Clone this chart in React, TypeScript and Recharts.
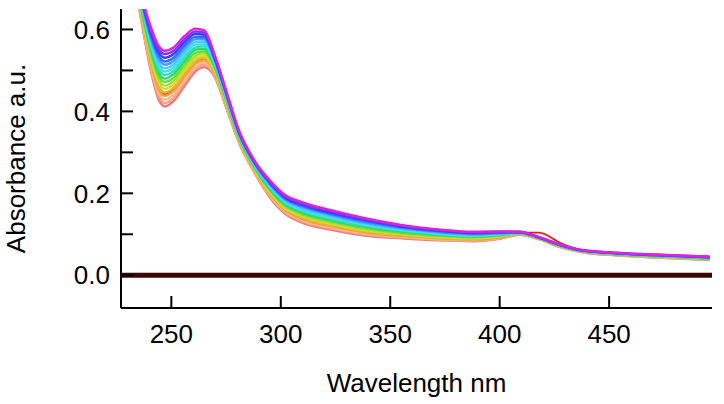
import React from "react";
import { LineChart, Line, XAxis, YAxis, Label } from "recharts";

// wavelength grid (nm) shared by every scan
const wavelengths = [232, 237, 241, 244, 247, 251, 256, 261, 265, 270, 275, 281, 288, 295, 302, 310, 322, 338, 355, 372, 388, 400, 409, 418, 428, 438, 452, 472, 496];

// absorbance scans, highest (magenta) to lowest (salmon)
const scan00 = [0.800, 0.672, 0.600, 0.562, 0.548, 0.556, 0.584, 0.602, 0.598, 0.535, 0.452, 0.352, 0.280, 0.232, 0.196, 0.178, 0.160, 0.140, 0.123, 0.112, 0.106, 0.107, 0.106, 0.093, 0.074, 0.061, 0.055, 0.050, 0.045];
const scan01 = [0.797, 0.668, 0.593, 0.554, 0.540, 0.548, 0.576, 0.595, 0.592, 0.532, 0.449, 0.350, 0.278, 0.229, 0.193, 0.175, 0.157, 0.137, 0.121, 0.110, 0.105, 0.106, 0.106, 0.093, 0.074, 0.061, 0.055, 0.050, 0.045];
const scan02 = [0.794, 0.663, 0.586, 0.546, 0.531, 0.540, 0.569, 0.589, 0.587, 0.528, 0.447, 0.348, 0.276, 0.227, 0.190, 0.172, 0.154, 0.135, 0.119, 0.109, 0.103, 0.105, 0.105, 0.092, 0.073, 0.060, 0.054, 0.049, 0.044];
const scan03 = [0.791, 0.659, 0.579, 0.538, 0.522, 0.531, 0.561, 0.582, 0.581, 0.525, 0.444, 0.346, 0.274, 0.224, 0.187, 0.169, 0.151, 0.132, 0.117, 0.107, 0.102, 0.104, 0.105, 0.092, 0.073, 0.060, 0.054, 0.049, 0.044];
const scan04 = [0.788, 0.654, 0.573, 0.530, 0.514, 0.523, 0.554, 0.576, 0.576, 0.522, 0.442, 0.345, 0.273, 0.222, 0.185, 0.166, 0.148, 0.129, 0.115, 0.105, 0.100, 0.102, 0.104, 0.092, 0.073, 0.060, 0.054, 0.048, 0.043];
const scan05 = [0.784, 0.650, 0.566, 0.521, 0.505, 0.515, 0.546, 0.569, 0.570, 0.518, 0.439, 0.343, 0.271, 0.219, 0.182, 0.162, 0.145, 0.127, 0.113, 0.104, 0.099, 0.101, 0.104, 0.091, 0.072, 0.059, 0.053, 0.048, 0.043];
const scan06 = [0.781, 0.645, 0.559, 0.513, 0.497, 0.507, 0.538, 0.563, 0.564, 0.515, 0.436, 0.341, 0.269, 0.216, 0.179, 0.159, 0.142, 0.124, 0.111, 0.102, 0.097, 0.100, 0.103, 0.091, 0.072, 0.059, 0.053, 0.047, 0.042];
const scan07 = [0.778, 0.641, 0.552, 0.505, 0.489, 0.499, 0.531, 0.556, 0.559, 0.512, 0.434, 0.339, 0.267, 0.214, 0.176, 0.156, 0.139, 0.121, 0.109, 0.100, 0.096, 0.099, 0.103, 0.091, 0.071, 0.059, 0.052, 0.047, 0.042];
const scan08 = [0.775, 0.636, 0.545, 0.497, 0.480, 0.491, 0.523, 0.550, 0.553, 0.509, 0.431, 0.337, 0.265, 0.211, 0.173, 0.153, 0.136, 0.119, 0.107, 0.099, 0.095, 0.098, 0.103, 0.091, 0.071, 0.059, 0.052, 0.047, 0.041];
const scan09 = [0.772, 0.632, 0.538, 0.489, 0.472, 0.482, 0.515, 0.543, 0.547, 0.505, 0.428, 0.335, 0.263, 0.208, 0.170, 0.150, 0.133, 0.116, 0.104, 0.097, 0.093, 0.097, 0.102, 0.090, 0.071, 0.058, 0.052, 0.046, 0.041];
const scan10 = [0.769, 0.627, 0.531, 0.481, 0.463, 0.474, 0.508, 0.536, 0.542, 0.502, 0.426, 0.333, 0.261, 0.206, 0.167, 0.147, 0.130, 0.113, 0.102, 0.095, 0.092, 0.096, 0.102, 0.090, 0.070, 0.058, 0.051, 0.046, 0.040];
const scan11 = [0.766, 0.623, 0.524, 0.473, 0.455, 0.466, 0.500, 0.530, 0.536, 0.499, 0.423, 0.331, 0.259, 0.203, 0.164, 0.144, 0.127, 0.110, 0.100, 0.093, 0.090, 0.095, 0.101, 0.090, 0.070, 0.058, 0.051, 0.045, 0.040];
const scan12 = [0.763, 0.618, 0.518, 0.465, 0.446, 0.458, 0.493, 0.523, 0.531, 0.495, 0.421, 0.329, 0.258, 0.201, 0.162, 0.141, 0.124, 0.108, 0.098, 0.092, 0.089, 0.094, 0.101, 0.089, 0.070, 0.057, 0.051, 0.045, 0.039];
const scan13 = [0.759, 0.614, 0.511, 0.456, 0.438, 0.450, 0.485, 0.517, 0.525, 0.492, 0.418, 0.328, 0.256, 0.198, 0.159, 0.137, 0.121, 0.105, 0.096, 0.090, 0.087, 0.092, 0.100, 0.089, 0.069, 0.057, 0.050, 0.044, 0.039];
const scan14 = [0.756, 0.609, 0.504, 0.448, 0.429, 0.441, 0.477, 0.510, 0.519, 0.489, 0.415, 0.326, 0.254, 0.195, 0.156, 0.134, 0.118, 0.102, 0.094, 0.088, 0.086, 0.091, 0.100, 0.089, 0.069, 0.057, 0.050, 0.044, 0.038];
const scan15 = [0.753, 0.605, 0.497, 0.440, 0.420, 0.433, 0.470, 0.504, 0.514, 0.485, 0.413, 0.324, 0.252, 0.193, 0.153, 0.131, 0.115, 0.100, 0.092, 0.087, 0.084, 0.090, 0.099, 0.088, 0.068, 0.056, 0.049, 0.043, 0.038];
const scan16 = [0.750, 0.600, 0.490, 0.432, 0.412, 0.425, 0.462, 0.497, 0.508, 0.482, 0.410, 0.322, 0.250, 0.190, 0.150, 0.128, 0.112, 0.097, 0.090, 0.085, 0.083, 0.089, 0.099, 0.088, 0.068, 0.056, 0.049, 0.043, 0.037];
// the one scan with the band near 416 nm, sits inside the lower part of the bundle elsewhere
const scanRed = [0.760, 0.616, 0.514, 0.460, 0.442, 0.454, 0.489, 0.520, 0.528, 0.493, 0.419, 0.328, 0.257, 0.199, 0.160, 0.139, 0.122, 0.106, 0.097, 0.091, 0.088, 0.093, 0.104, 0.104, 0.078, 0.060, 0.052, 0.045, 0.040];

// flat reference trace
const baselineWavelengths = [227, 497];
const baselineValues = [0, 0];

const xTicks = [250, 300, 350, 400, 450];
const yTicks = [0, 0.1, 0.2, 0.3, 0.4, 0.5, 0.6];

// drawing order: red first so the bundle covers it except at its band
const scans = [
  { key: "red", values: scanRed, color: "#e81818" },
  { key: "s16", values: scan16, color: "#f07878" },
  { key: "s15", values: scan15, color: "#f8a08c" },
  { key: "s14", values: scan14, color: "#f8bc88" },
  { key: "s13", values: scan13, color: "#f0a040" },
  { key: "s12", values: scan12, color: "#e8b830" },
  { key: "s11", values: scan11, color: "#dcd832" },
  { key: "s10", values: scan10, color: "#a8e030" },
  { key: "s09", values: scan09, color: "#60e040" },
  { key: "s08", values: scan08, color: "#30d860" },
  { key: "s07", values: scan07, color: "#30e0b0" },
  { key: "s06", values: scan06, color: "#40e0f0" },
  { key: "s05", values: scan05, color: "#50c8ff" },
  { key: "s04", values: scan04, color: "#40a0ff" },
  { key: "s03", values: scan03, color: "#3a6cff" },
  { key: "s02", values: scan02, color: "#3040ff" },
  { key: "s01", values: scan01, color: "#8a30f0" },
  { key: "s00", values: scan00, color: "#e020e0" },
];

const data = wavelengths.map((w, i) => {
  const row: Record<string, number> = { w };
  scans.forEach((s) => (row[s.key] = s.values[i]));
  return row;
});

const baseline = baselineWavelengths.map((w, i) => ({ w, base: baselineValues[i] }));

const FONT = "'Liberation Sans', Arial, Helvetica, sans-serif";
const tickStyle = { fill: "#000", fontSize: 26, fontFamily: FONT };
const axisStroke = { stroke: "#000", strokeWidth: 2 };

export default function App() {
  return (
    <div style={{ position: "absolute", left: 0, top: 0, width: 724, height: 404, background: "#fff" }}>
      <LineChart
        width={724}
        height={404}
        data={data}
        margin={{ top: 9, right: 12, bottom: 56, left: 21 }}
        style={{ fontFamily: FONT }}
      >
        <XAxis
          dataKey="w"
          type="number"
          domain={[227, 497]}
          allowDataOverflow
          ticks={xTicks}
          height={40}
          tickSize={-12}
          tickMargin={29}
          axisLine={axisStroke}
          tickLine={axisStroke}
          tick={tickStyle}
        >
          <Label
            content={({ viewBox }: any) => (
              <text
                x={viewBox.x + viewBox.width / 2}
                y={392}
                textAnchor="middle"
                fill="#000"
                fontSize={26}
                fontFamily={FONT}
              >
                Wavelength nm
              </text>
            )}
          />
        </XAxis>
        <XAxis
          xAxisId="top"
          orientation="top"
          dataKey="w"
          type="number"
          domain={[227, 497]}
          allowDataOverflow
          ticks={xTicks}
          height={0}
          tickSize={-12}
          axisLine={axisStroke}
          tickLine={axisStroke}
          tick={false}
        />
        <YAxis
          type="number"
          domain={[-0.08, 0.65]}
          allowDataOverflow
          ticks={yTicks}
          width={100}
          tickSize={-12}
          tickMargin={23}
          axisLine={axisStroke}
          tickLine={axisStroke}
          tick={tickStyle}
          tickFormatter={(v: number) => (Math.round(v * 10) % 2 === 0 ? v.toFixed(1) : "")}
        >
          <Label
            content={({ viewBox }: any) => {
              const cx = 25;
              const cy = viewBox.y + viewBox.height / 2;
              return (
                <text
                  x={cx}
                  y={cy}
                  transform={`rotate(-90 ${cx} ${cy})`}
                  textAnchor="middle"
                  fill="#000"
                  fontSize={26}
                  fontFamily={FONT}
                >
                  Absorbance a.u.
                </text>
              );
            }}
          />
        </YAxis>
        <YAxis
          yAxisId="right"
          orientation="right"
          type="number"
          domain={[-0.08, 0.65]}
          allowDataOverflow
          ticks={yTicks}
          width={0}
          tickSize={-12}
          axisLine={axisStroke}
          tickLine={axisStroke}
          tick={false}
        />
        <Line
          data={baseline}
          dataKey="base"
          type="linear"
          stroke="#3a0606"
          strokeWidth={5}
          dot={false}
          isAnimationActive={false}
        />
        {scans.map((s) => (
          <Line
            key={s.key}
            dataKey={s.key}
            type="monotone"
            stroke={s.color}
            strokeWidth={s.key === "red" ? 1.8 : 2.4}
            dot={false}
            isAnimationActive={false}
          />
        ))}
      </LineChart>
    </div>
  );
}
